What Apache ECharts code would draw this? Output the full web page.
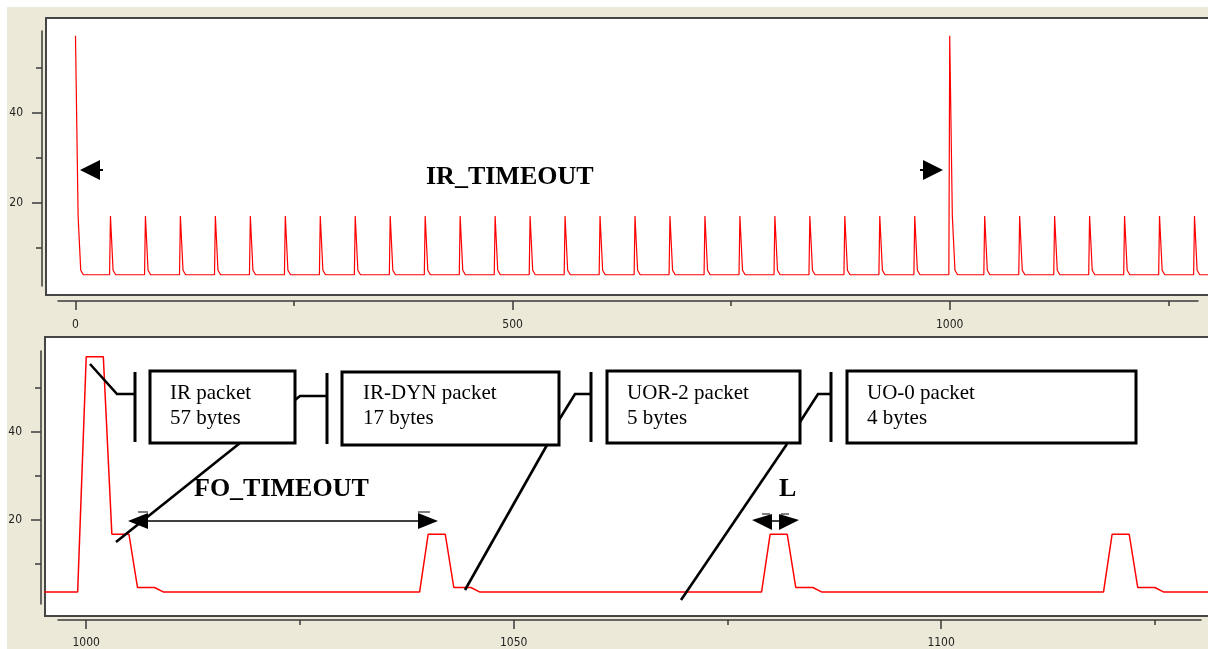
<!DOCTYPE html>
<html>
<head>
<meta charset="utf-8">
<script src="https://cdn.jsdelivr.net/npm/echarts@6/dist/echarts.min.js"></script>
<style>
  html, body { margin: 0; padding: 0; background: #ffffff; }
  #wrap { position: relative; width: 1208px; height: 649px; overflow: hidden; background: #ffffff; }
  #beige { position: absolute; left: 7px; top: 7px; width: 1201px; height: 642px; background: #ECE9D8; }
  #chart { position: absolute; left: 0; top: 0; width: 1208px; height: 649px; }
</style>
</head>
<body>
<div id="wrap"><div id="beige"></div><div id="chart"></div></div>
<script>
// ---------- DATA ----------
// Upper chart: packet start times (x units) and packet shapes
const topIrTimes = [0, 1000];
const topDynTimes = [40, 80, 120, 160, 200, 240, 280, 320, 360, 400, 440, 480,
                     520, 560, 600, 640, 680, 720, 760, 800, 840, 880, 920, 960,
                     1040, 1080, 1120, 1160, 1200, 1240, 1280];
const irShapeOffsets = [-1, 0, 2, 3, 5, 6, 8, 9];
const irShapeValues  = [4, 57, 57, 17, 17, 5, 5, 4];
const dynShapeOffsets = [-1, 0, 2, 3, 5, 6];
const dynShapeValues  = [4, 17, 17, 5, 5, 4];
const topEndX = 1320;
const topEndValue = 4;

// Lower chart (zoom around 1000): line vertices
const bottomX = [994, 999, 1000, 1002, 1003, 1005, 1006, 1008, 1009,
                 1039, 1040, 1042, 1043, 1045, 1046,
                 1079, 1080, 1082, 1083, 1085, 1086,
                 1119, 1120, 1122, 1123, 1125, 1126, 1134];
const bottomY = [4, 4, 57, 57, 17, 17, 5, 5, 4,
                 4, 17, 17, 5, 5, 4,
                 4, 17, 17, 5, 5, 4,
                 4, 17, 17, 5, 5, 4, 4];

// Tick / label values
const topXTicks = [0, 250, 500, 750, 1000, 1250];
const topXLabels = [0, 500, 1000];
const bottomXTicks = [1000, 1025, 1050, 1075, 1100, 1125];
const bottomXLabels = [1000, 1050, 1100];
const yTicks = [10, 20, 30, 40, 50];
const yLabels = [20, 40];

// ---------- build series data ----------
const topEvents = [];
topIrTimes.forEach(t => topEvents.push({t, offs: irShapeOffsets, vals: irShapeValues}));
topDynTimes.forEach(t => topEvents.push({t, offs: dynShapeOffsets, vals: dynShapeValues}));
topEvents.sort((a, b) => a.t - b.t);
const topData = [];
topEvents.forEach(ev => {
  ev.offs.forEach((o, i) => {
    const x = ev.t + o;
    if (x >= 0) topData.push([x, ev.vals[i]]);
  });
});
topData.push([topEndX, topEndValue]);
const bottomData = bottomX.map((x, i) => [x, bottomY[i]]);

// ---------- layout (pixels) ----------
// axis boxes (where the axis lines run) and panel boxes (white frames, series drawn inside)
const L1 = { axis: { l: 58, r: 1198, t: 31, b: 286, xmin: -20, xmax: 1284, ymin: 1.5, ymax: 58.05 },
             panel: { l: 46, r: 1208, t: 18, b: 295 }, xOff: 15, yOff: 16, xMargin: 18 };
const L2 = { axis: { l: 58, r: 1201, t: 351, b: 606, xmin: 996.7, xmax: 1130.4, ymin: 0.83, ymax: 58.3 },
             panel: { l: 45, r: 1208, t: 337, b: 616 }, xOff: 16, yOff: 17, xMargin: 17 };
// extend an axis box's scale out to the panel box so the line is drawn edge to edge
function panelScale(L) {
  const a = L.axis, p = L.panel;
  const kx = (a.r - a.l) / (a.xmax - a.xmin);
  const ky = (a.b - a.t) / (a.ymax - a.ymin);
  return {
    xmin: a.xmin - (a.l - p.l) / kx, xmax: a.xmax + (p.r - a.r) / kx,
    ymin: a.ymin - (p.b - a.b) / ky, ymax: a.ymax + (a.t - p.t) / ky
  };
}
const S1 = panelScale(L1), S2 = panelScale(L2);

// ---------- styles ----------
const axisColor = '#3a3a3a';
const labelFont = { fontFamily: '"DejaVu Sans Condensed", "Liberation Sans", sans-serif',
                    fontSize: 12, color: '#222222', formatter: v => String(v) };

function gridBox(b) {
  return { left: b.l, top: b.t, width: b.r - b.l, height: b.b - b.t };
}
function xAxes(grid, a, ticks, labels, offset, margin) {
  return [
    { type: 'value', gridIndex: grid, min: a.xmin, max: a.xmax, position: 'bottom', offset,
      axisLine: { show: true, onZero: false, lineStyle: { color: axisColor, width: 1.5 } },
      axisTick: { show: true, length: 5, customValues: ticks, lineStyle: { color: axisColor, width: 1.5 } },
      axisLabel: { show: false }, splitLine: { show: false } },
    { type: 'value', gridIndex: grid, min: a.xmin, max: a.xmax, position: 'bottom', offset,
      axisLine: { show: false, onZero: false },
      axisTick: { show: true, length: 9, customValues: labels, lineStyle: { color: axisColor, width: 1.5 } },
      axisLabel: Object.assign({ show: true, margin, customValues: labels }, labelFont),
      splitLine: { show: false } }
  ];
}
function yAxes(grid, a, offset) {
  return [
    { type: 'value', gridIndex: grid, min: a.ymin, max: a.ymax, position: 'left', offset,
      axisLine: { show: true, onZero: false, lineStyle: { color: axisColor, width: 1.5 } },
      axisTick: { show: true, length: 6, customValues: yTicks, lineStyle: { color: axisColor, width: 1.5 } },
      axisLabel: { show: false }, splitLine: { show: false } },
    { type: 'value', gridIndex: grid, min: a.ymin, max: a.ymax, position: 'left', offset,
      axisLine: { show: false, onZero: false },
      axisTick: { show: true, length: 10, customValues: yLabels, lineStyle: { color: axisColor, width: 1.5 } },
      axisLabel: Object.assign({ show: true, margin: 19, customValues: yLabels }, labelFont),
      splitLine: { show: false } }
  ];
}
function hiddenX(grid, s) {
  return { type: 'value', gridIndex: grid, min: s.xmin, max: s.xmax, show: false, axisLine: { onZero: false } };
}
function hiddenY(grid, s) {
  return { type: 'value', gridIndex: grid, min: s.ymin, max: s.ymax, show: false, axisLine: { onZero: false } };
}

// ---------- frames and annotations ----------
function frame(p) {
  // white panel with a dark border; its right side runs past the picture edge
  return { type: 'rect', z: 1, silent: true,
    shape: { x: p.l, y: p.t, width: p.r - p.l + 30, height: p.b - p.t },
    style: { fill: '#ffffff', stroke: '#454545', lineWidth: 2 } };
}
const serif = '"Liberation Serif", "Times New Roman", serif';
const Z = 100;
function pl(points, w) {
  return { type: 'polyline', z: Z, shape: { points }, style: { stroke: '#000', lineWidth: w || 2.6, fill: null } };
}
function tri(points) {
  return { type: 'polygon', z: Z, shape: { points }, style: { fill: '#000', stroke: null } };
}
function box(x, y, w, h) {
  return { type: 'rect', z: Z, shape: { x, y, width: w, height: h }, style: { fill: '#fff', stroke: '#000', lineWidth: 3 } };
}
function txt(text, x, y, font) {
  return { type: 'text', z: Z + 1, style: { text, x, y, font, fill: '#000',
    textAlign: 'left', align: 'left', textVerticalAlign: 'middle', verticalAlign: 'middle' } };
}
const f21 = '21px ' + serif;
const fb26 = 'bold 26px ' + serif;
const graphics = [
  frame(L1.panel),
  frame(L2.panel),
  // upper chart
  txt('IR_TIMEOUT', 426, 177, fb26),
  tri([[80, 170], [100, 160], [100, 180]]),
  pl([[100, 170], [103, 170]], 2),
  tri([[943, 170], [923, 160], [923, 180]]),
  pl([[920, 170], [923, 170]], 2),
  // lower chart separators and connectors
  pl([[90, 364], [117, 394], [135, 394]]),
  pl([[135, 372], [135, 442]], 3),
  box(150, 371, 145, 72),
  txt('IR packet', 170, 393, f21),
  txt('57 bytes', 170, 418, f21),
  pl([[295, 400], [300, 396], [327, 396]]),
  pl([[327, 373], [327, 444]], 3),
  box(342, 372, 217, 73),
  txt('IR-DYN packet', 363, 393, f21),
  txt('17 bytes', 363, 418, f21),
  pl([[559, 420], [575, 394], [591, 394]]),
  pl([[591, 372], [591, 442]], 3),
  box(607, 371, 193, 72),
  txt('UOR-2 packet', 627, 393, f21),
  txt('5 bytes', 627, 418, f21),
  pl([[800, 422], [818, 394], [831, 394]]),
  pl([[831, 372], [831, 442]], 3),
  box(847, 371, 289, 72),
  txt('UO-0 packet', 867, 393, f21),
  txt('4 bytes', 867, 418, f21),
  // pointers
  pl([[240, 443], [116, 542]]),
  pl([[547, 445], [465, 590]]),
  pl([[787, 444], [681, 600]]),
  // FO_TIMEOUT
  txt('FO_TIMEOUT', 194, 489, fb26),
  pl([[140, 521], [426, 521]], 1.5),
  tri([[128, 521], [148, 513], [148, 529]]),
  tri([[438, 521], [418, 513], [418, 529]]),
  pl([[138, 512], [148, 512]], 1),
  pl([[418, 512], [430, 512]], 1),
  // L
  txt('L', 779, 489, fb26),
  tri([[752, 520], [772, 514], [772, 530]]),
  tri([[799, 520], [779, 514], [779, 530]]),
  pl([[772, 521], [779, 521]], 1.5),
  pl([[762, 514], [770, 514]], 1),
  pl([[781, 514], [789, 514]], 1)
];

const chart = echarts.init(document.getElementById('chart'), null, { renderer: 'canvas' });
chart.setOption({
  backgroundColor: 'transparent',
  animation: false,
  grid: [
    gridBox(L1.panel),   // 0: upper series area (panel)
    gridBox(L1.axis),    // 1: upper visible axes
    gridBox(L2.panel),   // 2: lower series area (panel)
    gridBox(L2.axis)     // 3: lower visible axes
  ],
  xAxis: [].concat(
    xAxes(1, L1.axis, topXTicks, topXLabels, L1.xOff, L1.xMargin),        // 0,1
    xAxes(3, L2.axis, bottomXTicks, bottomXLabels, L2.xOff, L2.xMargin),  // 2,3
    [hiddenX(0, S1), hiddenX(2, S2)]                                       // 4,5
  ),
  yAxis: [].concat(
    yAxes(1, L1.axis, L1.yOff),   // 0,1
    yAxes(3, L2.axis, L2.yOff),   // 2,3
    [hiddenY(0, S1), hiddenY(2, S2)] // 4,5
  ),
  series: [
    { type: 'line', xAxisIndex: 4, yAxisIndex: 4, data: topData, showSymbol: false,
      lineStyle: { color: '#ff0000', width: 1.2 }, z: 5 },
    { type: 'line', xAxisIndex: 5, yAxisIndex: 5, data: bottomData, showSymbol: false,
      lineStyle: { color: '#ff0000', width: 1.5 }, z: 5 }
  ],
  graphic: { elements: graphics }
});
</script>
</body>
</html>
